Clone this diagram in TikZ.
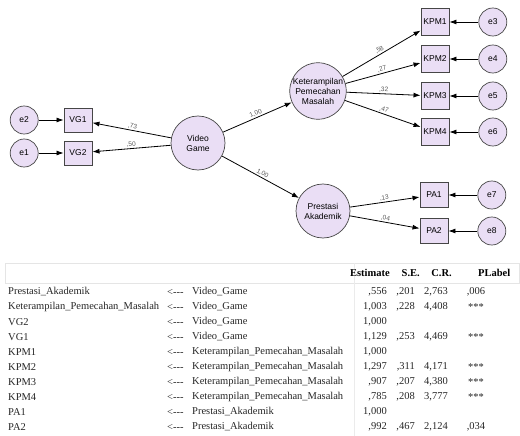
\documentclass[tikz,border=0pt]{standalone}
\usepackage{fontspec}
\setmainfont{Liberation Serif}
\newfontfamily\amosfont{Liberation Sans}
\usetikzlibrary{positioning,arrows.meta}
\definecolor{lavfill}{RGB}{234,222,245}
\definecolor{edgegray}{RGB}{70,70,70}

\begin{document}
\begin{tikzpicture}[x=1pt,y=-1pt,
    node distance=26pt and 26pt,
 latent/.style = {
        draw=edgegray, circle, fill=lavfill, align=center,
        minimum size=54pt, inner sep=0pt, line width=0.7pt,
        font=\amosfont\fontsize{8.5}{10}\selectfont},
errnode/.style = {
        draw=edgegray, circle, fill=lavfill,
        minimum size=28pt, inner sep=0pt, line width=0.7pt,
        font=\amosfont\fontsize{8.5}{10}\selectfont},
 obsbox/.style = {
        draw=edgegray, rectangle, fill=lavfill,
        minimum width=28pt, minimum height=25pt, inner sep=0pt,
        line width=0.9pt, font=\amosfont\fontsize{8.5}{10}\selectfont},
   coef/.style = {
        midway, sloped, above, inner sep=1pt, text=black!65,
        font=\amosfont\fontsize{6.5}{6.5}\selectfont},
   cell/.style = {inner sep=0pt, text=black!85,
        font=\fontsize{10.5}{12}\selectfont},
   head/.style = {cell, text=black,
        font=\fontsize{10.5}{12}\selectfont\bfseries},
  arrow/.style = {line width=0.8pt,-{Latex[length=7pt,width=5pt]}}
                    ]
\useasboundingbox (0,0) rectangle (520,436);
% the latent variables
\node (vg)  [latent] at (198,143) {Video\\Game};
\node (kpm) [latent] at (318,91)  {Keterampilan\\Pemecahan\\Masalah};
\node (pa)  [latent] at (323,211) {Prestasi\\Akademik};
% the indicators of video game
\node (vg1) [obsbox, minimum height=24pt] at (78,120) {VG1};
\node (vg2) [obsbox, minimum height=24pt] at (78,153) {VG2};
\node (e2)  [errnode, left=25pt of vg1] {e2};
\node (e1)  [errnode, left=25pt of vg2] {e1};
% the indicators on the right
\node (kpm1) [obsbox, minimum height=27pt] at (435,22)  {KPM1};
\node (kpm2) [obsbox, minimum height=27pt] at (435,59)  {KPM2};
\node (kpm3) [obsbox, minimum height=27pt] at (435,96)  {KPM3};
\node (kpm4) [obsbox, minimum height=27pt] at (435,132) {KPM4};
\node (pa1)  [obsbox] at (434,195) {PA1};
\node (pa2)  [obsbox] at (434,231) {PA2};
\node (e3) [errnode, right=29pt of kpm1] {e3};
\node (e4) [errnode, right=29pt of kpm2] {e4};
\node (e5) [errnode, right=29pt of kpm3] {e5};
\node (e6) [errnode, right=29pt of kpm4] {e6};
\node (e7) [errnode, right=29pt of pa1]  {e7};
\node (e8) [errnode, right=29pt of pa2]  {e8};
% the paths
\draw[arrow] (e2) -- (vg1);
\draw[arrow] (e1) -- (vg2);
\draw[arrow] (vg) -- node[coef] {,73} (vg1);
\draw[arrow] (vg) -- node[coef] {,50} (vg2);
\draw[arrow] (vg) -- node[coef] {1,00} (kpm);
\draw[arrow] (vg) -- node[coef] {1,00} (pa);
\draw[arrow] (kpm) -- node[coef] {,58} (kpm1);
\draw[arrow] (kpm) -- node[coef] {,27} (kpm2);
\draw[arrow] (kpm) -- node[coef] {,32} (kpm3);
\draw[arrow] (kpm) -- node[coef] {,47} (kpm4);
\draw[arrow] (pa) -- node[coef] {,13} (pa1);
\draw[arrow] (pa) -- node[coef] {,04} (pa2);
\foreach \e/\b in {e3/kpm1,e4/kpm2,e5/kpm3,e6/kpm4,e7/pa1,e8/pa2}
    \draw[arrow] (\e) -- (\b);
% the table of regression weights
\draw[black!10] (5,263) rectangle (519,283);
\draw[black!8] (354,263) -- (354,436);
\node (hest) [head, anchor=east] at (390,273) {Estimate};
\node (hse)  [head, anchor=east] at (420,273) {S.E.};
\node (hcr)  [head, anchor=east] at (452,273) {C.R.};
\node (hp)   [head, anchor=west] at (478,273) {PLabel};
\foreach \lhs/\rhs/\est/\se/\cr/\p [count=\i] in {
    Prestasi\_Akademik/Video\_Game/{,556}/{,201}/{2,763}/{,006},
    Keterampilan\_Pemecahan\_Masalah/Video\_Game/{1,003}/{,228}/{4,408}/***,
    VG2/Video\_Game/{1,000}///,
    VG1/Video\_Game/{1,129}/{,253}/{4,469}/***,
    KPM1/Keterampilan\_Pemecahan\_Masalah/{1,000}///,
    KPM2/Keterampilan\_Pemecahan\_Masalah/{1,297}/{,311}/{4,171}/***,
    KPM3/Keterampilan\_Pemecahan\_Masalah/{,907}/{,207}/{4,380}/***,
    KPM4/Keterampilan\_Pemecahan\_Masalah/{,785}/{,208}/{3,777}/***,
    PA1/Prestasi\_Akademik/{1,000}///,
    PA2/Prestasi\_Akademik/{,992}/{,467}/{2,124}/{,034}}
{
    \pgfmathsetmacro{\rowy}{277+15*\i}
    \node (lhs\i) [cell, anchor=west] at (8,\rowy)   {\lhs};
    \node (dir\i) [cell, anchor=west] at (167,\rowy) {<-{}-{}-};
    \node (rhs\i) [cell, anchor=west] at (192,\rowy) {\rhs};
    \node (est\i) [cell, anchor=east] at (387,\rowy) {\est};
    \node (se\i)  [cell, anchor=east] at (415,\rowy) {\se};
    \node (cr\i)  [cell, anchor=east] at (448,\rowy) {\cr};
    \node (p\i)   [cell] at (476,\rowy) {\p};
}
\end{tikzpicture}
\end{document}
